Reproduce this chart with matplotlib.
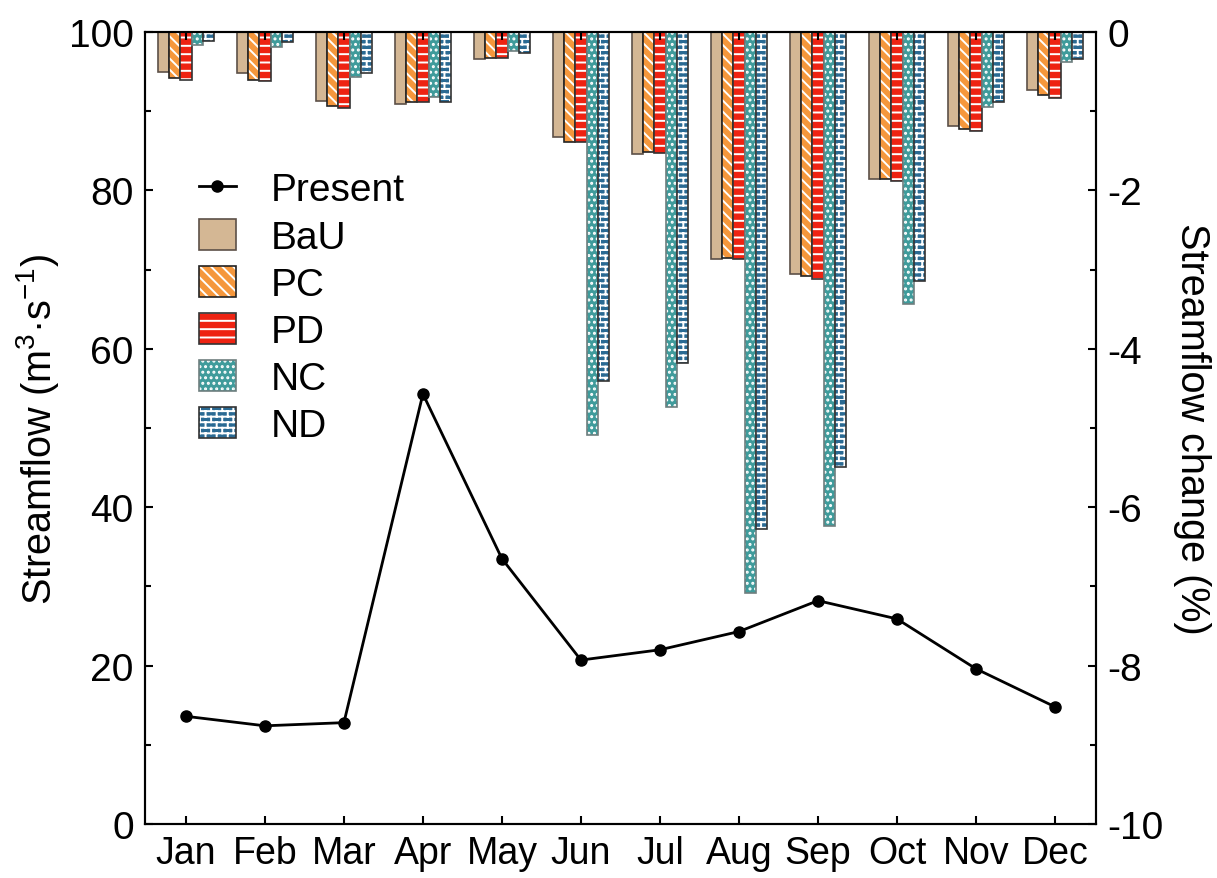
import warnings
import numpy as np
import matplotlib
matplotlib.use('Agg')
import matplotlib.pyplot as plt
import matplotlib.hatch as mhatch
from matplotlib.path import Path
from matplotlib.patches import Patch
from matplotlib.lines import Line2D
from matplotlib.ticker import MultipleLocator

warnings.filterwarnings('ignore')

months = ['Jan', 'Feb', 'Mar', 'Apr', 'May', 'Jun',
          'Jul', 'Aug', 'Sep', 'Oct', 'Nov', 'Dec']

# monthly streamflow under present conditions (m3/s)
present = [13.6, 12.4, 12.8, 54.3, 33.5, 20.7, 22.0, 24.3, 28.2, 25.9, 19.6, 14.8]

# streamflow change per scenario (%)
bau = [-0.50, -0.52, -0.87, -0.91, -0.34, -1.33, -1.54, -2.87, -3.05, -1.86, -1.19, -0.73]
pc = [-0.58, -0.61, -0.94, -0.88, -0.33, -1.39, -1.51, -2.85, -3.08, -1.86, -1.22, -0.80]
pd_ = [-0.61, -0.62, -0.96, -0.88, -0.33, -1.39, -1.53, -2.87, -3.12, -1.88, -1.25, -0.83]
nc = [-0.17, -0.19, -0.57, -0.82, -0.24, -5.09, -4.73, -7.08, -6.24, -3.43, -0.95, -0.38]
nd = [-0.11, -0.13, -0.52, -0.88, -0.27, -4.41, -4.18, -6.28, -5.49, -3.15, -0.88, -0.34]


class BrickHatch(mhatch.HatchPatternBase):
    """Brick wall hatch, selected with the letter 'b'."""

    def __init__(self, hatch, density):
        self.n = int(hatch.count('b') * density / 2)
        self.rows = 2 * self.n
        self.num_vertices = (self.rows * 2 + self.rows * self.n * 2) if self.n else 0

    def set_vertices_and_codes(self, vertices, codes):
        segs = []
        for i in range(self.rows):
            y0 = i / self.rows
            y1 = (i + 1) / self.rows
            segs.append(((0, y0), (1, y0)))
            shift = 0.5 / self.n if i % 2 else 0.0
            for j in range(self.n):
                xx = j / self.n + shift
                segs.append(((xx, y0), (xx, y1)))
        vertices[:] = np.array(segs, dtype=float).reshape(-1, 2)
        codes[0::2] = Path.MOVETO
        codes[1::2] = Path.LINETO


mhatch._hatch_types.append(BrickHatch)

plt.rcParams['font.family'] = ['Liberation Sans', 'DejaVu Sans']
plt.rcParams['mathtext.default'] = 'regular'
plt.rcParams['axes.unicode_minus'] = False
plt.rcParams['hatch.linewidth'] = 1.4

# name, values, fill, hatch, outline
series = [
    ('BaU', bau, '#D4B794', None, '#5c5048'),
    ('PC', pc, '#F5973C', '\\\\\\', '#222222'),
    ('PD', pd_, '#EE2312', '--', '#333333'),
    ('NC', nc, '#3F9B9B', '...', '#6f7f7f'),
    ('ND', nd, '#2A6A93', 'bbb', '#333333'),
]

fig = plt.figure(figsize=(12.17, 8.79), dpi=100)
ax = fig.add_axes([0.119, 0.0614, 0.7816, 0.9011])
ax2 = ax.twinx()
ax.set_zorder(2)
ax2.set_zorder(1)
ax.patch.set_visible(False)

x = np.arange(len(months))
w = 0.143
handles = []
for k, (name, vals, fill, hatch, edge) in enumerate(series):
    pos = x + (k - 2) * w
    ax2.bar(pos, vals, w, color=fill, edgecolor='white', hatch=hatch, linewidth=0)
    ax2.bar(pos, vals, w, fill=False, edgecolor=edge, linewidth=1.2)
    handles.append((Patch(facecolor=fill, edgecolor='white', hatch=hatch, linewidth=0),
                    Patch(fill=False, edgecolor=edge, linewidth=1.2)))

ax.plot(x, present, color='black', lw=2, marker='o', ms=8)

ax.set_xlim(-0.52, 11.52)
ax.set_ylim(0, 100)
ax2.set_ylim(-10, 0)
ax.set_xticks(x)
ax.set_xticklabels(months)
ax.yaxis.set_major_locator(MultipleLocator(20))
ax.yaxis.set_minor_locator(MultipleLocator(10))
ax2.yaxis.set_major_locator(MultipleLocator(2))
ax2.yaxis.set_minor_locator(MultipleLocator(1))

ax.tick_params(axis='both', which='both', direction='in', width=1.5)
ax.tick_params(axis='x', top=True, length=6, pad=8, labelsize=27)
ax.tick_params(axis='y', which='major', length=6, pad=8, labelsize=28)
ax.tick_params(axis='y', which='minor', length=4)
ax2.tick_params(axis='y', which='both', direction='in', labelsize=28, width=1.5, pad=8)
ax2.tick_params(axis='y', which='major', length=6)
ax2.tick_params(axis='y', which='minor', length=4)
for a in (ax, ax2):
    for s in a.spines.values():
        s.set_linewidth(1.5)

ax.set_ylabel('Streamflow (m$^3$·s$^{-1}$)', fontsize=28.5, labelpad=6)
ax2.set_ylabel('Streamflow change (%)', fontsize=28.5, rotation=270, labelpad=34)

present_handle = Line2D([], [], color='black', lw=2, marker='o', ms=8)
ax.legend([present_handle] + handles, ['Present'] + [s[0] for s in series],
          loc='upper left', bbox_to_anchor=(0.02, 0.868), frameon=False,
          fontsize=28, handlelength=0.95, handleheight=0.85,
          labelspacing=0.26, handletextpad=0.9)

fig.savefig('out.png', dpi=100)
